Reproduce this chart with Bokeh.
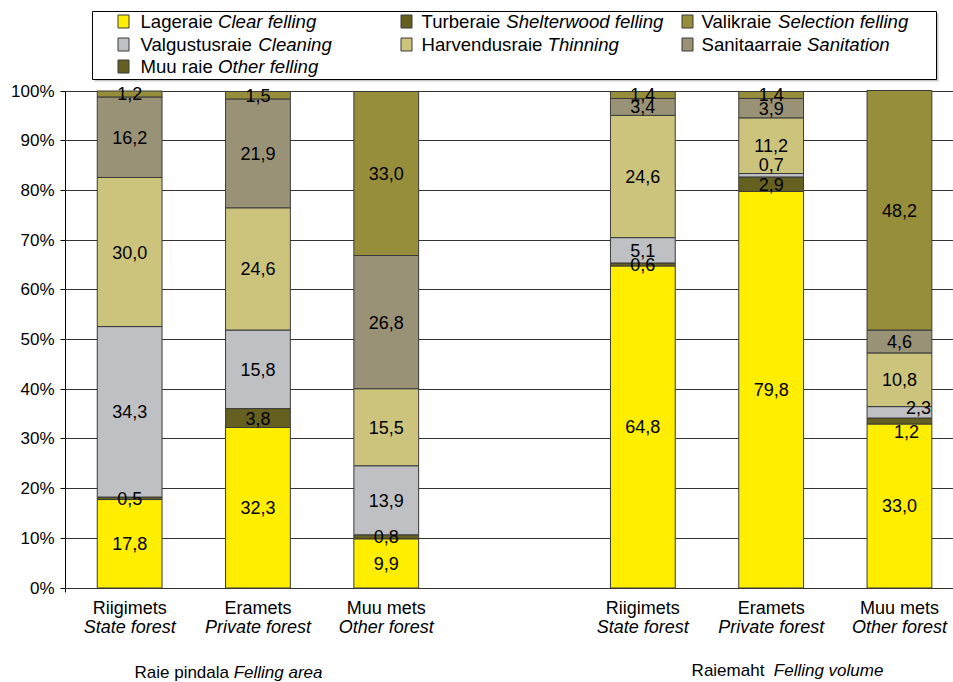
from bokeh.plotting import figure
from bokeh.models import Range1d, FixedTicker, ColumnDataSource
from bokeh.core.properties import value
from bokeh.embed import file_html
from bokeh.resources import INLINE

# ---------------- data ----------------
forest_et = ["Riigimets", "Eramets", "Muu mets"]
forest_en = ["State forest", "Private forest", "Other forest"]
panel_et = ["Raie pindala", "Raiemaht "]
panel_en = ["Felling area", "Felling volume"]

# felling types in stacking order (bottom -> top)
type_et = ["Lageraie", "Turberaie", "Valgustusraie", "Harvendusraie", "Sanitaarraie", "Valikraie", "Muu raie"]
type_en = ["Clear felling", "Shelterwood felling", "Cleaning", "Thinning", "Sanitation", "Selection felling", "Other felling"]
type_colors = ["#FFEE00", "#666020", "#BFC0C4", "#CCC47C", "#999276", "#968E3A", "#666020"]
legend_order = ["Lageraie", "Turberaie", "Valikraie", "Valgustusraie", "Harvendusraie", "Sanitaarraie", "Muu raie"]

# felling area, % (Riigimets, Eramets, Muu mets)
area_clear = [17.8, 32.3, 9.9]
area_shelter = [0.5, 3.8, 0.8]
area_cleaning = [34.3, 15.8, 13.9]
area_thinning = [30.0, 24.6, 15.5]
area_sanitation = [16.2, 21.9, 26.8]
area_selection = [1.2, 1.5, 33.0]
area_other = [0.0, 0.0, 0.0]

# felling volume, %
vol_clear = [64.8, 79.8, 33.0]
vol_shelter = [0.6, 2.9, 1.2]
vol_cleaning = [5.1, 0.7, 2.3]
vol_thinning = [24.6, 11.2, 10.8]
vol_sanitation = [3.4, 3.9, 4.6]
vol_selection = [1.4, 1.4, 48.2]
vol_other = [0.0, 0.0, 0.0]

y_ticks = [0, 10, 20, 30, 40, 50, 60, 70, 80, 90, 100]
y_tick_labels = ["0%", "10%", "20%", "30%", "40%", "50%", "60%", "70%", "80%", "90%", "100%"]

area_series = [area_clear, area_shelter, area_cleaning, area_thinning, area_sanitation, area_selection, area_other]
vol_series = [vol_clear, vol_shelter, vol_cleaning, vol_thinning, vol_sanitation, vol_selection, vol_other]

# ---------------- layout helpers ----------------
W, H = 953, 682
LEFT = 65
FX0 = LEFT              # frame left on the page
PXX = 128.3             # pixels per category slot
Y0 = 587.5              # page y of 0 %
PXY = 4.97              # pixels per percent


def xd(px):
    return (px - FX0) / PXX


def yd(py):
    return (Y0 - py) / PXY


AW = {' ': 278, ',': 278, '.': 278, '%': 889}
for ch in "0123456789":
    AW[ch] = 556
AW.update(dict(zip("abcdefghijklmnopqrstuvwxyz",
                   [556, 556, 500, 556, 556, 278, 556, 556, 222, 222, 500, 222, 833,
                    556, 556, 556, 556, 333, 500, 278, 556, 500, 722, 500, 500, 500])))
AW.update(dict(zip("ABCDEFGHIJKLMNOPQRSTUVWXYZ",
                   [667, 667, 722, 722, 667, 611, 778, 722, 278, 500, 667, 556, 833,
                    722, 778, 667, 778, 722, 667, 611, 722, 667, 944, 667, 667, 611])))


def tw(s, size):
    return sum(AW.get(c, 556) for c in s) * size / 1000.0


FONT = "Liberation Sans"

p = figure(width=W, height=H, output_backend="svg", toolbar_location=None,
           x_axis_type=None, title=None,
           x_range=Range1d(0, (W - LEFT) / PXX),
           y_range=Range1d(yd(H), yd(0)),
           min_border_left=LEFT, min_border_right=0, min_border_top=0, min_border_bottom=0)
p.outline_line_color = None
p.background_fill_color = "white"
p.border_fill_color = "white"

ticker = FixedTicker(ticks=y_ticks)
p.yaxis.ticker = ticker
p.yaxis.major_label_overrides = {t: l for t, l in zip(y_ticks, y_tick_labels)}
p.yaxis.bounds = (-1, 100)
p.yaxis.axis_line_color = "black"
p.yaxis.major_tick_line_color = "black"
p.yaxis.major_tick_in = 0
p.yaxis.major_tick_out = 5
p.yaxis.minor_tick_line_color = None
p.yaxis.major_label_standoff = 6
p.yaxis.major_label_text_font = FONT
p.yaxis.major_label_text_font_size = "17px"
p.yaxis.major_label_text_color = "black"
p.ygrid.ticker = ticker
p.ygrid.grid_line_color = "#333333"
p.ygrid.grid_line_width = 1
p.xgrid.visible = False

# ---------------- bars ----------------
label_offsets = {(1, 1, 2): (0, -11), (1, 2, 2): (19, -5), (1, 2, 1): (7, 10)}

bx, bb, bt, bc = [], [], [], []
lx, ly, lt, lox, loy = [], [], [], [], []
for g, series in enumerate([area_series, vol_series]):
    for i in range(3):
        xc = g * 4 + i + 0.5
        base = 0.0
        for k, vals in enumerate(series):
            v = vals[i]
            if v <= 0:
                continue
            bx.append(xc); bb.append(base); bt.append(base + v); bc.append(type_colors[k])
            off = label_offsets.get((g, i, k), (0, 0))
            lx.append(xc); ly.append(base + v / 2.0)
            lt.append(("%.1f" % v).replace(".", ","))
            lox.append(off[0]); loy.append(off[1])
            base += v

bars = ColumnDataSource(dict(x=bx, bottom=bb, top=bt, color=bc))
p.vbar(x="x", bottom="bottom", top="top", width=0.505, fill_color="color",
       line_color="#3A3A3A", line_width=1, source=bars)

labels = ColumnDataSource(dict(x=lx, y=ly, text=lt, xo=lox, yo=loy))
p.text(x="x", y="y", text="text", x_offset="xo", y_offset="yo", source=labels,
       text_font=value(FONT), text_font_size="18px", text_align="center",
       text_baseline="middle", text_color="black")

# ---------------- category labels ----------------
cx = [g * 4 + i + 0.5 for g in range(2) for i in range(3)]
p.text(x=cx, y=[yd(607)] * 6, text=forest_et * 2, text_font=value(FONT),
       text_font_size="18px", text_align="center", text_baseline="middle", text_color="black")
p.text(x=cx, y=[yd(626)] * 6, text=forest_en * 2, text_font=value(FONT),
       text_font_style="italic", text_font_size="18px", text_align="center",
       text_baseline="middle", text_color="black")

# ---------------- panel titles ----------------
title_pos = [(228, 672), (787, 670)]
TS = 17
for (cxp, cyp), et, en in zip(title_pos, panel_et, panel_en):
    tot = tw(et + " " + en, TS)
    start = cxp - tot / 2.0
    p.text(x=[xd(start)], y=[yd(cyp)], text=[et], text_font=value(FONT), text_font_size="%dpx" % TS,
           text_align="left", text_baseline="middle", text_color="black")
    p.text(x=[xd(start + tw(et + " ", TS))], y=[yd(cyp)], text=[en], text_font=value(FONT),
           text_font_style="italic", text_font_size="%dpx" % TS,
           text_align="left", text_baseline="middle", text_color="black")

# ---------------- legend ----------------
p.quad(left=[xd(94)], right=[xd(938)], top=[yd(13)], bottom=[yd(81)],
       fill_color="#C8C8C8", line_color=None)
p.quad(left=[xd(92)], right=[xd(936)], top=[yd(11)], bottom=[yd(79)],
       fill_color="white", line_color="black", line_width=1)
col_sw = [123, 406, 687]
col_tx = [140, 421, 701]
row_y = [21, 44, 66]
LS = 18.6
for n, name in enumerate(legend_order):
    k = type_et.index(name)
    r, c = divmod(n, 3)
    p.rect(x=[xd(col_sw[c])], y=[yd(row_y[r])], width=11, height=13,
           width_units="screen", height_units="screen",
           fill_color=type_colors[k], line_color="#3A3A3A", line_width=1)
    p.text(x=[xd(col_tx[c])], y=[yd(row_y[r])], text=[type_et[k]], text_font=value(FONT),
           text_font_size="%.1fpx" % LS, text_align="left", text_baseline="middle", text_color="black")
    p.text(x=[xd(col_tx[c] + tw(type_et[k] + " ", LS))], y=[yd(row_y[r])], text=[type_en[k]],
           text_font=value(FONT), text_font_style="italic", text_font_size="%.1fpx" % LS,
           text_align="left", text_baseline="middle", text_color="black")

open("out.html", "w").write(file_html(p, INLINE))
